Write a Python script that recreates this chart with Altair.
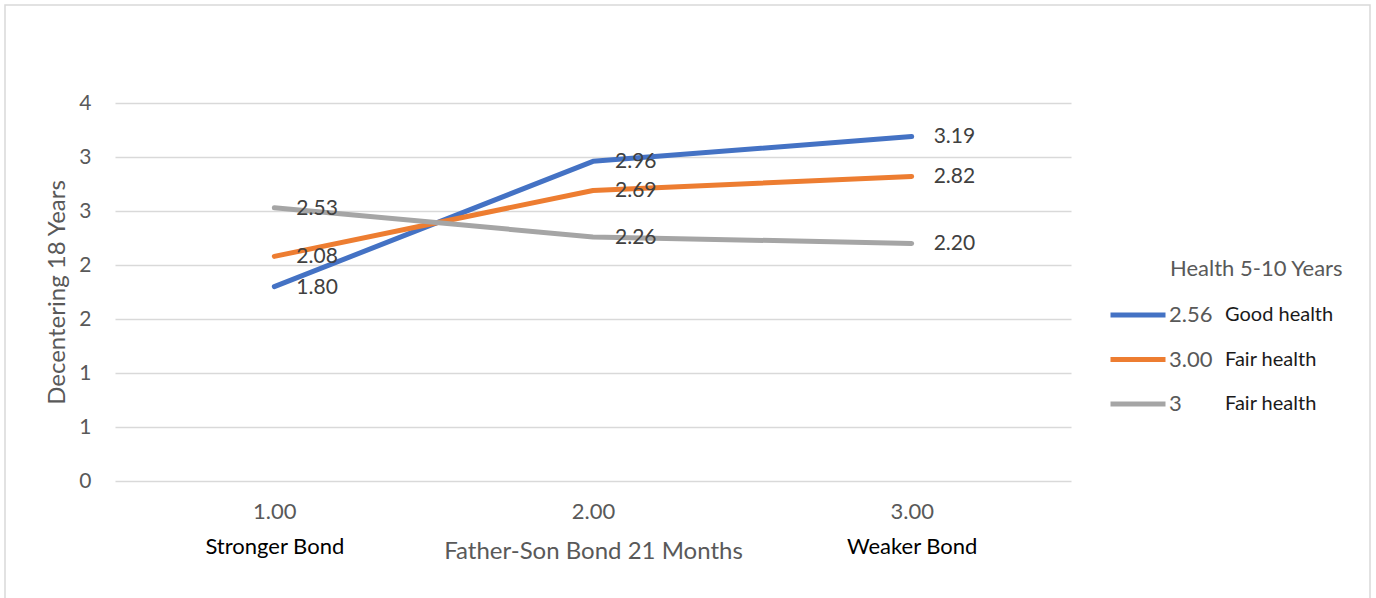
import altair as alt
import pandas as pd

# ---- data ----
x_labels = ["1.00", "2.00", "3.00"]
bond_labels = ["Stronger Bond", "", "Weaker Bond"]
series_names = ["2.56", "3.00", "3"]
series_desc = ["Good health", "Fair health", "Fair health"]
series_ids = ["d1", "d2", "d3"]
good_health = [1.80, 2.96, 3.19]
fair_health_a = [2.08, 2.69, 2.82]
fair_health_b = [2.53, 2.26, 2.20]
colors = ["#4472C4", "#ED7D31", "#A5A5A5"]
y_ticks = [0, 0.5, 1, 1.5, 2, 2.5, 3, 3.5]

all_values = [good_health, fair_health_a, fair_health_b]
rows = []
for name, sid, vals in zip(series_names, series_ids, all_values):
    for xl, bl, v in zip(x_labels, bond_labels, vals):
        rows.append({"x": xl, "bond": bl, "series": name, "sid": sid, "value": v})
df = pd.DataFrame(rows)

FONT = "Lato"
GREY = "#595959"

bond_expr = " : ".join(
    [f"datum.value == '{x}' ? '{b}'" for x, b in zip(x_labels, bond_labels)]
) + " : ''"
desc_expr = " : ".join(
    [f"datum.value == '{i}' ? '{d}'" for i, d in zip(series_ids, series_desc)]
) + " : ''"

x_scale = alt.Scale(type="point", padding=0.5, domain=x_labels)
y_scale = alt.Scale(domain=[0, 3.5], nice=False)

base = alt.Chart(df)

lines = base.mark_line(strokeWidth=5, strokeCap="round", strokeJoin="round").encode(
    x=alt.X(
        "x:N",
        scale=x_scale,
        sort=x_labels,
        axis=alt.Axis(
            orient="bottom",
            title="Father-Son Bond 21 Months",
            titleFont=FONT,
            titleFontSize=24,
            titleFontWeight="normal",
            titleColor=GREY,
            titleY=70,
            titleBaseline="middle",
            labelFont=FONT,
            labelFontSize=22,
            labelColor=GREY,
            labelPadding=20,
            labelAngle=0,
            domain=False,
            ticks=False,
            grid=False,
        ),
    ),
    y=alt.Y(
        "value:Q",
        scale=y_scale,
        axis=alt.Axis(
            values=y_ticks,
            labelExpr="'' + round(datum.value)",
            title="Decentering 18 Years",
            titleFont=FONT,
            titleFontSize=24,
            titleFontWeight="normal",
            titleColor=GREY,
            titleX=-58,
            titleBaseline="middle",
            labelFont=FONT,
            labelFontSize=21,
            labelColor=GREY,
            labelPadding=24,
            domain=False,
            ticks=False,
            grid=True,
            gridColor="#D9D9D9",
            gridWidth=1.3,
        ),
    ),
    color=alt.Color(
        "series:N",
        scale=alt.Scale(domain=series_names, range=colors),
        legend=alt.Legend(
            orient="none",
            legendX=993,
            legendY=197,
            title=None,
            symbolType="stroke",
            symbolSize=3025,
            symbolStrokeWidth=5,
            clipHeight=30,
            rowPadding=14.5,
            labelFont=FONT,
            labelFontSize=22,
            labelColor=GREY,
            labelOffset=1,
            padding=0,
        ),
    ),
    detail="series:N",
)

labels = base.mark_text(
    align="left", baseline="middle", dx=22, dy=1, font=FONT, fontSize=21, color="#404040"
).encode(
    x=alt.X(
        "x:N",
        scale=x_scale,
        sort=x_labels,
        axis=alt.Axis(
            orient="bottom",
            title=None,
            labelExpr=bond_expr,
            labelFont=FONT,
            labelFontSize=22,
            labelColor="#000000",
            labelPadding=55,
            labelAngle=0,
            domain=False,
            ticks=False,
            grid=False,
        ),
    ),
    y=alt.Y("value:Q", scale=y_scale, axis=None),
    text=alt.Text("value:Q", format=".2f"),
)

desc_layer = base.mark_point(opacity=0).encode(
    x=alt.X("x:N", scale=x_scale, sort=x_labels, axis=None),
    y=alt.Y("value:Q", scale=y_scale, axis=None),
    shape=alt.Shape(
        "sid:N",
        scale=alt.Scale(domain=series_ids),
        legend=alt.Legend(
            orient="none",
            legendX=1055,
            legendY=156,
            title="Health 5-10 Years",
            titleFont=FONT,
            titleFontSize=22,
            titleFontWeight="normal",
            titleColor=GREY,
            titlePadding=19,
            symbolSize=2025,
            symbolOpacity=0,
            symbolStrokeWidth=0,
            clipHeight=30,
            rowPadding=14.5,
            labelExpr=desc_expr,
            labelFont=FONT,
            labelFontSize=20,
            labelColor="#1a1a1a",
            labelOffset=10,
            padding=0,
        ),
    ),
)

frame = alt.Chart(pd.DataFrame({"k": [0]})).mark_rect(
    fill=None, stroke="#D9D9D9", strokeWidth=1.5
).encode(
    x=alt.value(-110), x2=alt.value(1255), y=alt.value(-98), y2=alt.value(500)
)

chart = (
    alt.layer(frame, lines, labels, desc_layer)
    .resolve_axis(x="independent", y="independent")
    .properties(
        width=956,
        height=378,
        autosize=alt.AutoSizeParams(type="none"),
        padding={"left": 115, "top": 103, "right": 305, "bottom": 117},
        background="white",
    )
    .configure_view(stroke=None)
)

chart.save("out.html", embed_options={"renderer": "svg", "actions": False})
